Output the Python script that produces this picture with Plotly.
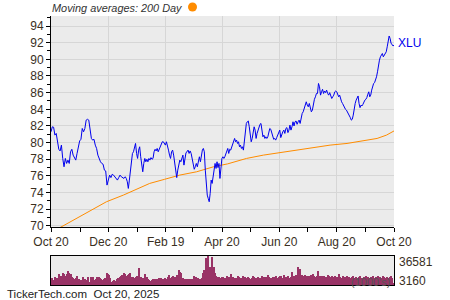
import pandas as pd
import plotly.graph_objects as go

# ---------------- data ----------------
seg_bounds = ["2024-10-20", "2025-01-07", "2025-03-28", "2025-06-15", "2025-08-18", "2025-10-20"]

price_oct_jan = [81.3, 81.9, 81.85, 80.9, 81.1, 80.1, 79.2, 79.0, 79.7, 78.1, 77.1, 78.1, 77.5, 77.9, 77.5,
                 78.9, 79.2, 78.5, 78.1, 77.9, 78.7, 79.7, 80.2, 80.4, 81.7, 81.3, 81.7, 82.7, 82.8, 82.7,
                 81.7, 80.5, 80.3, 80.4, 79.7, 79.3, 78.5, 78.0, 77.7, 77.5, 77.4, 76.7, 76.6, 74.9, 75.5,
                 76.1, 75.8, 76.2, 76.1, 75.9, 75.7, 75.5, 75.8, 76.1, 75.9, 75.8, 75.7]
price_jan_mar = [75.9, 75.7, 75.3, 74.5, 75.5, 76.5, 77.9, 78.7, 78.9, 79.3, 79.9, 78.7, 78.1, 79.1, 79.5,
                 78.3, 77.1, 76.5, 77.5, 78.1, 77.7, 78.0, 77.7, 78.1, 77.9, 78.2, 78.0, 78.1, 78.9, 79.2,
                 79.0, 79.3, 78.9, 79.2, 79.5, 79.9, 80.1, 80.1, 79.9, 79.7, 80.1, 79.7, 79.1, 78.5, 78.1,
                 78.9, 79.1, 78.5, 77.7, 76.7, 75.8, 76.7, 77.3, 77.9, 77.7, 78.3, 78.5, 77.3, 78.3, 78.8,
                 78.9, 79.1, 78.7, 79.0, 78.7, 78.1, 77.5, 76.8, 77.1, 77.5, 77.1, 77.7, 78.3]
price_mar_jun = [77.7, 78.7, 79.1, 79.3, 78.9, 76.7, 74.3, 73.7, 73.3, 72.9, 73.9, 75.5, 75.1, 76.1, 76.7,
                 77.5, 76.9, 77.7, 77.0, 77.5, 75.7, 77.3, 78.1, 78.3, 78.1, 78.3, 78.7, 78.9, 79.3, 78.7,
                 79.2, 79.1, 79.5, 79.9, 80.3, 80.5, 80.1, 80.3, 79.9, 80.1, 79.5, 79.7, 79.3, 79.5, 79.1,
                 80.3, 81.7, 82.3, 82.5, 82.6, 81.9, 81.1, 80.1, 80.5, 81.5, 81.9, 81.5, 80.5, 81.1, 81.5,
                 81.9, 82.2, 82.3, 81.6, 80.7, 80.9, 80.5, 80.7, 80.5, 80.7, 81.3, 81.7, 81.6, 81.1, 80.9,
                 80.4]
price_jun_aug = [80.5, 80.3, 80.6, 80.9, 81.3, 81.5, 80.6, 81.1, 81.3, 81.5, 81.1, 81.7, 81.8, 81.2, 81.5,
                 82.1, 81.5, 81.9, 82.5, 82.0, 82.5, 82.6, 82.2, 82.5, 82.7, 82.3, 83.1, 83.5, 83.7, 84.1,
                 84.7, 84.9, 84.5, 84.3, 84.7, 84.1, 83.7, 83.9, 84.7, 85.2, 85.5, 85.9, 85.9, 87.1, 86.7,
                 85.7, 86.1, 86.4, 85.9, 86.2, 86.0, 86.3, 85.9, 85.7, 86.0, 85.5, 85.3, 85.5, 85.7]
price_aug_oct = [86.1, 86.2, 86.1, 85.8, 85.5, 85.7, 85.1, 84.9, 84.7, 84.4, 84.2, 84.0, 83.9, 83.7, 83.5,
                 83.3, 83.0, 82.7, 82.8, 83.3, 84.3, 84.7, 85.1, 85.4, 85.6, 84.7, 84.2, 84.5, 84.4, 84.6,
                 84.9, 85.1, 85.2, 85.4, 85.8, 86.1, 85.5, 85.7, 86.3, 86.9, 87.1, 87.2, 87.5, 87.9, 88.5,
                 89.5, 89.9, 90.3, 90.5, 90.7, 90.3, 90.5, 90.7, 90.9, 91.5, 92.1, 92.8, 92.5, 91.9, 91.8,
                 91.6, 91.7]

ma_days = [0, 11, 24, 34, 49, 59, 77, 91, 105, 121, 137, 155, 173, 188, 208, 226, 244, 261, 279, 297,
           315, 332, 347, 357, 365]
ma_values = [69.2, 69.9, 70.7, 71.3, 72.3, 72.9, 73.7, 74.4, 75.1, 75.6, 76.1, 76.5, 77.1, 77.45, 78.1,
             78.5, 78.8, 79.1, 79.4, 79.7, 79.9, 80.2, 80.5, 80.9, 81.4]

vol_oct_jan = [7500, 8700, 6650, 10000, 7500, 8700, 14100, 10800, 11600, 15000, 14100, 11600, 14100, 18300,
               15800, 14100, 10800, 8700, 7500, 8700, 11600, 7500, 5800, 6650, 10800, 6650, 7500, 6650,
               10000, 4600, 10800, 8700, 10800, 6650, 7500, 10000, 10000, 8700, 7500, 6650, 7500, 8700,
               15000, 14100, 12900, 8700, 4600, 5800, 6650, 5800, 7500, 8700, 10800, 11600, 12900, 15000]
vol_jan_mar = [14100, 11600, 12900, 14100, 15000, 10000, 10800, 8700, 10000, 11600, 21200, 8700, 10000,
               9100, 8700, 14100, 10000, 7500, 6650, 5800, 6650, 7500, 7500, 8300, 7500, 8700, 7500, 8700,
               8300, 7500, 8700, 8300, 10800, 12900, 8700, 10000, 11600, 10000, 10800, 12900, 19100,
               17000, 15800, 8700, 8300, 7500, 8300, 8300, 7500, 8300, 7500, 11600, 7500, 10000, 8700, 8300]
vol_mar_jun = [7500, 8700, 15000, 19100, 33700, 27400, 36581, 23300, 15000, 34900, 23300, 15000, 11600,
               10800, 10000, 8700, 10800, 10000, 9100, 9500, 12000, 10500, 9000, 14500, 10000, 9000, 8700,
               9500, 11000, 10000, 9000, 8700, 11600, 10000, 9500, 10500, 9000, 8300, 9500, 12000, 10800,
               9500, 8700, 10000, 9100, 9500, 11000, 10000, 9000, 10500, 12500, 10000, 9500, 9000, 10000]
vol_jun_aug = [10000, 11000, 9500, 10500, 12000, 11000, 9500, 13000, 10500, 10000, 11500, 9500, 10000,
               16000, 11000, 10000, 13000, 23000, 15000, 20000, 12500, 11000, 13000, 10500, 12000, 11000,
               10000, 12500, 13500, 11000, 10000, 12000, 18300, 11500, 10500, 12000, 11000, 9500, 10500,
               13000, 11000, 10000, 12000, 10500]
vol_aug_oct = [11000, 9500, 10500, 13500, 10000, 9000, 11000, 10000, 9500, 12000, 10500, 9000, 10000, 11000,
               9500, 10000, 9000, 10500, 11500, 9500, 9000, 10000, 12000, 9500, 10000, 9000, 10500, 11000,
               9500, 10000, 9000, 11000, 10000, 9500, 12000, 10000, 9000, 10500, 9500, 10000, 11000, 9500,
               3160]

x_major_ticks = ["2024-10-20", "2024-12-20", "2025-02-19", "2025-04-20", "2025-06-20", "2025-08-20", "2025-10-20"]
x_major_labels = ["Oct 20", "Dec 20", "Feb 19", "Apr 20", "Jun 20", "Aug 20", "Oct 20"]
x_minor_ticks = ["2024-11-20", "2025-01-20", "2025-03-20", "2025-05-20", "2025-07-20", "2025-09-20"]

symbol = "XLU"
title_text = "Moving averages: 200 Day"
footer_text = "TickerTech.com\u00a0\u00a0Oct 20, 2025"
vol_unit_text = "(1000's)"


# ---------------- build series ----------------
def seg_dates(segments):
    xs, ys = [], []
    n = len(segments)
    for i, vals in enumerate(segments):
        a, b = seg_bounds[i], seg_bounds[i + 1]
        if i < n - 1:
            d = pd.date_range(a, b, periods=len(vals) + 1)[:-1]
        else:
            d = pd.date_range(a, b, periods=len(vals))
        xs.extend(list(d))
        ys.extend(vals)
    return xs, ys


px_x, px_y = seg_dates([price_oct_jan, price_jan_mar, price_mar_jun, price_jun_aug, price_aug_oct])
vx, vy = seg_dates([vol_oct_jan, vol_jan_mar, vol_mar_jun, vol_jun_aug, vol_aug_oct])
ma_x = pd.Timestamp(seg_bounds[0]) + pd.to_timedelta(ma_days, unit="D")

vol_max = max(vy)
vol_min = min(vy)

W, H = 450, 300
FONT = "Liberation Sans, Arial, sans-serif"
TXT = "#3a2f1e"
GRID = "#d6d6d6"
BG = "#ebebeb"

fig = go.Figure()
fig.add_trace(go.Scatter(x=ma_x, y=ma_values, mode="lines",
                         line=dict(color="#ff8c00", width=1), xaxis="x", yaxis="y", hoverinfo="skip"))
fig.add_trace(go.Scatter(x=px_x, y=px_y, mode="lines",
                         line=dict(color="#0000ee", width=1), xaxis="x", yaxis="y"))
fig.add_trace(go.Bar(x=vx, y=vy, xaxis="x2", yaxis="y2",
                     marker=dict(color="#993366", line=dict(width=0))))

xdom = [51 / W, 394 / W]
fig.update_layout(
    width=W, height=H,
    margin=dict(l=0, r=0, t=0, b=0, autoexpand=False),
    paper_bgcolor="white", plot_bgcolor=BG,
    showlegend=False, bargap=0,
    font=dict(family=FONT, size=12, color=TXT),
    xaxis=dict(domain=xdom, anchor="y", range=["2024-10-20", "2025-10-20"], automargin=False,
               tickmode="array", tickvals=x_major_ticks, ticktext=x_major_labels,
               showgrid=True, gridcolor=GRID, gridwidth=1,
               ticks="outside", ticklen=4, tickcolor="black", tickwidth=1,
               showline=True, linecolor="black", linewidth=1, zeroline=False,
               tickfont=dict(size=12, color=TXT),
               minor=dict(tickmode="array", tickvals=x_minor_ticks, ticks="outside",
                          ticklen=4, tickcolor="black", showgrid=False)),
    yaxis=dict(domain=[1 - 227 / H, 1 - 16 / H], anchor="x", range=[69.87, 95.2], automargin=False,
               tickmode="linear", tick0=70, dtick=2,
               showgrid=True, gridcolor=GRID, gridwidth=1,
               ticks="outside", ticklen=4, tickcolor="black",
               showline=True, linecolor="black", linewidth=1, zeroline=False,
               tickfont=dict(size=12, color=TXT),
               minor=dict(dtick=1, tick0=70, ticks="outside", ticklen=3, tickcolor="black", showgrid=False)),
    xaxis2=dict(domain=xdom, anchor="y2", matches="x", showticklabels=False, ticks="", automargin=False,
                showgrid=False, showline=True, mirror=True, linecolor="black", linewidth=1, zeroline=False),
    yaxis2=dict(domain=[1 - 285.3 / H, 1 - 256 / H], anchor="x2", range=[0, vol_max], automargin=False,
                showticklabels=False, ticks="", showgrid=False, zeroline=False,
                showline=True, mirror=True, linecolor="black", linewidth=1),
)

ann = [
    dict(text="<i>" + title_text + "</i>", xref="paper", yref="paper", x=50 / W, y=1 - 8 / H,
         xanchor="left", yanchor="middle", showarrow=False, font=dict(size=10.9, color="#333")),
    dict(text=symbol, x=px_x[-1], y=px_y[-1], xref="x", yref="y", xanchor="left", yanchor="middle",
         xshift=2, yshift=2, showarrow=False, font=dict(size=12, color="#0000ee")),
    dict(text=footer_text, xref="paper", yref="paper", x=5 / W, y=1 - 294 / H,
         xanchor="left", yanchor="middle", showarrow=False, font=dict(size=11.5, color="#222")),
    dict(text=str(vol_max), xref="paper", yref="y2", x=397 / W, y=vol_max, xanchor="left",
         yanchor="middle", yshift=-6, showarrow=False, font=dict(size=12, color=TXT)),
    dict(text=str(vol_min), xref="paper", yref="y2", x=397 / W, y=vol_min, xanchor="left",
         yanchor="middle", yshift=2, showarrow=False, font=dict(size=12, color=TXT)),
    dict(text=vol_unit_text, xref="paper", yref="paper", x=392 / W, y=1 - 282 / H,
         xanchor="right", yanchor="middle", showarrow=False, font=dict(size=11, color="#555")),
]
fig.update_layout(annotations=ann)
fig.add_shape(type="circle", xref="paper", yref="paper",
              x0=188 / W, x1=197 / W, y0=1 - 11.5 / H, y1=1 - 2.5 / H,
              fillcolor="#ff8c00", line=dict(width=0))

fig.write_html("out.html")
